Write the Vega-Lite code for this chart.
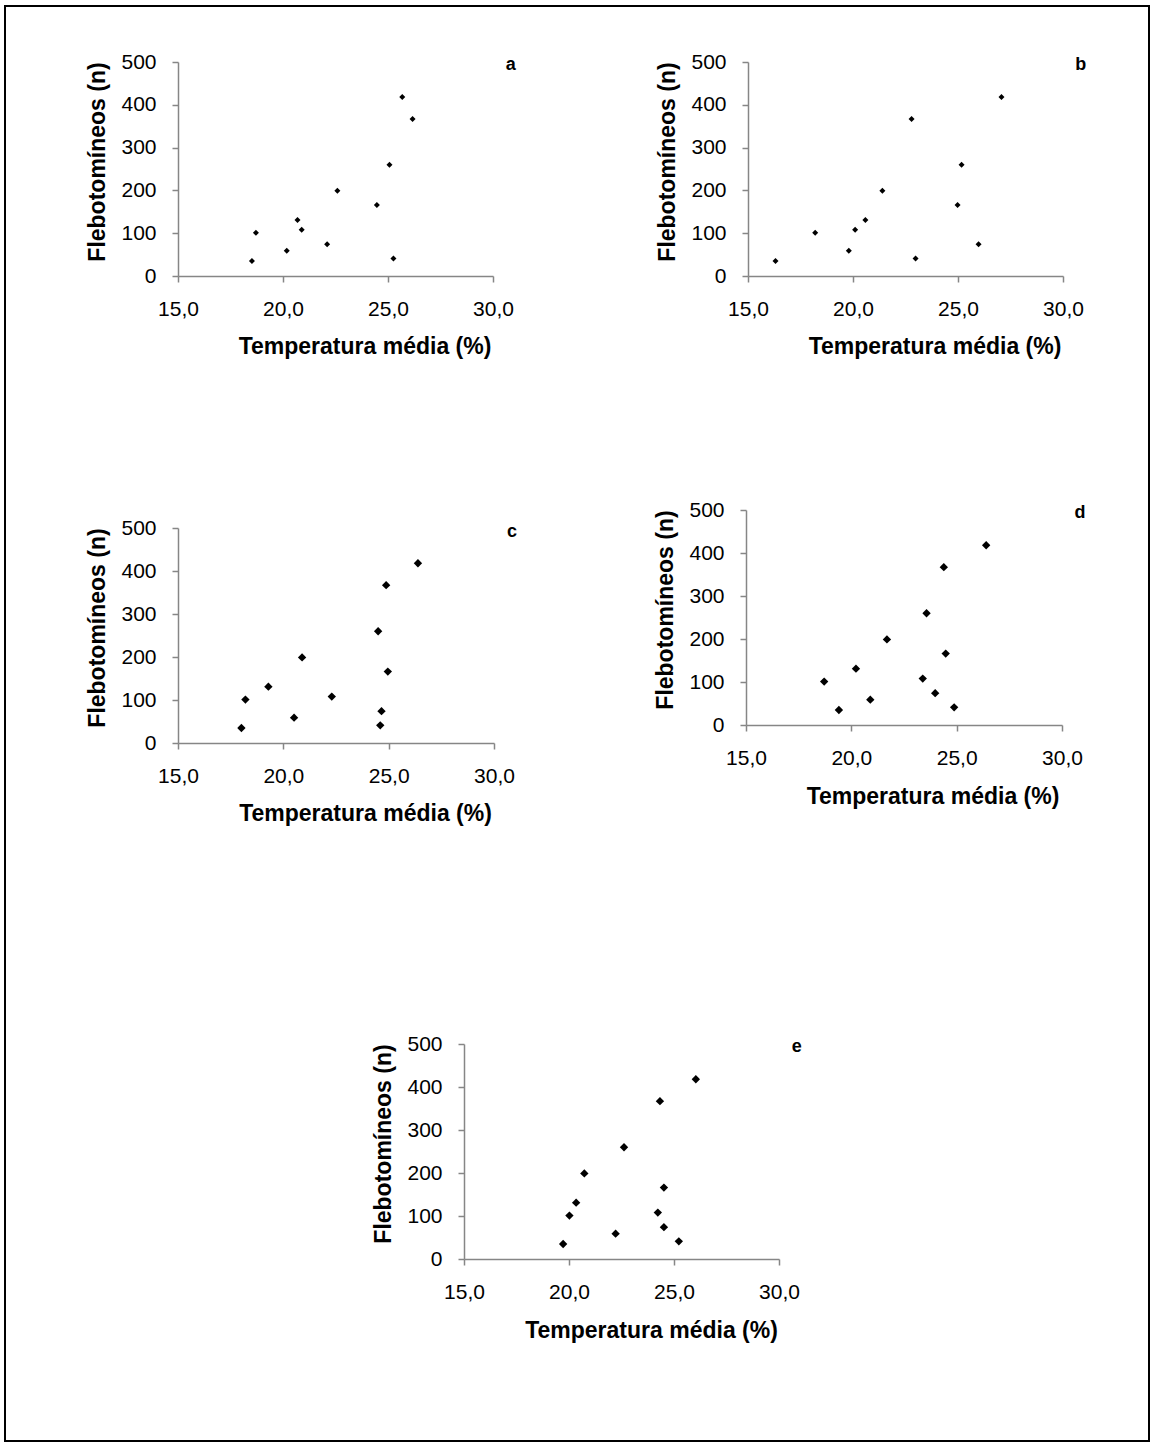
{
  "$schema": "https://vega.github.io/schema/vega-lite/v6.json",
  "width": 1144,
  "height": 1435,
  "autosize": {"type": "none"},
  "padding": {"left": 5, "top": 6, "right": 2, "bottom": 7},
  "background": "white",
  "config": {
    "view": {"stroke": "black", "strokeWidth": 2, "fill": "white"},
    "axis": {
      "grid": false,
      "domainColor": "#868686",
      "domainWidth": 1.5,
      "tickColor": "#868686",
      "tickWidth": 1.5,
      "tickSize": 6,
      "labelFont": "Liberation Sans",
      "labelFontSize": 21,
      "labelColor": "black",
      "labelPadding": 16,
      "labelFlush": false,
      "labelOverlap": false,
      "titleFont": "Liberation Sans",
      "titleFontSize": 23,
      "titleFontWeight": "bold",
      "titleColor": "black",
      "titleBaseline": "alphabetic",
      "titleAlign": "center"
    },
    "text": {"font": "Liberation Sans", "fontWeight": "bold", "fontSize": 18, "align": "center", "baseline": "alphabetic", "color": "black"}
  },
  "datasets": {
    "flebotomineos": [
      {"painel": "a", "temp": 18.52, "n": 35}, {"painel": "a", "temp": 18.71, "n": 101}, {"painel": "a", "temp": 20.18, "n": 59}, {"painel": "a", "temp": 20.69, "n": 131}, {"painel": "a", "temp": 20.89, "n": 108}, {"painel": "a", "temp": 22.10, "n": 74}, {"painel": "a", "temp": 22.59, "n": 199}, {"painel": "a", "temp": 24.47, "n": 166}, {"painel": "a", "temp": 25.07, "n": 260}, {"painel": "a", "temp": 25.26, "n": 41}, {"painel": "a", "temp": 25.68, "n": 418}, {"painel": "a", "temp": 26.17, "n": 367},
      {"painel": "b", "temp": 16.31, "n": 35}, {"painel": "b", "temp": 18.20, "n": 101}, {"painel": "b", "temp": 19.80, "n": 59}, {"painel": "b", "temp": 20.10, "n": 108}, {"painel": "b", "temp": 20.59, "n": 131}, {"painel": "b", "temp": 21.40, "n": 199}, {"painel": "b", "temp": 22.79, "n": 367}, {"painel": "b", "temp": 22.98, "n": 41}, {"painel": "b", "temp": 24.98, "n": 166}, {"painel": "b", "temp": 25.17, "n": 260}, {"painel": "b", "temp": 25.98, "n": 74}, {"painel": "b", "temp": 27.07, "n": 418},
      {"painel": "c", "temp": 18.01, "n": 35}, {"painel": "c", "temp": 18.20, "n": 101}, {"painel": "c", "temp": 19.29, "n": 131}, {"painel": "c", "temp": 20.51, "n": 59}, {"painel": "c", "temp": 20.89, "n": 199}, {"painel": "c", "temp": 22.30, "n": 108}, {"painel": "c", "temp": 24.50, "n": 260}, {"painel": "c", "temp": 24.60, "n": 41}, {"painel": "c", "temp": 24.66, "n": 74}, {"painel": "c", "temp": 24.88, "n": 367}, {"painel": "c", "temp": 24.96, "n": 166}, {"painel": "c", "temp": 26.39, "n": 418},
      {"painel": "d", "temp": 18.71, "n": 101}, {"painel": "d", "temp": 19.41, "n": 35}, {"painel": "d", "temp": 20.22, "n": 131}, {"painel": "d", "temp": 20.90, "n": 59}, {"painel": "d", "temp": 21.69, "n": 199}, {"painel": "d", "temp": 23.39, "n": 108}, {"painel": "d", "temp": 23.57, "n": 260}, {"painel": "d", "temp": 23.98, "n": 74}, {"painel": "d", "temp": 24.39, "n": 367}, {"painel": "d", "temp": 24.48, "n": 166}, {"painel": "d", "temp": 24.88, "n": 41}, {"painel": "d", "temp": 26.40, "n": 418},
      {"painel": "e", "temp": 19.72, "n": 35}, {"painel": "e", "temp": 20.02, "n": 101}, {"painel": "e", "temp": 20.34, "n": 131}, {"painel": "e", "temp": 20.73, "n": 199}, {"painel": "e", "temp": 22.22, "n": 59}, {"painel": "e", "temp": 22.62, "n": 260}, {"painel": "e", "temp": 24.23, "n": 108}, {"painel": "e", "temp": 24.33, "n": 367}, {"painel": "e", "temp": 24.52, "n": 74}, {"painel": "e", "temp": 24.52, "n": 166}, {"painel": "e", "temp": 25.23, "n": 41}, {"painel": "e", "temp": 26.04, "n": 418}
    ],
    "paineis": [
      {"painel": "a"}, {"painel": "b"}, {"painel": "c"}, {"painel": "d"}, {"painel": "e"}
    ]
  },
  "data": {"name": "flebotomineos"},
  "resolve": {
    "scale": {"x": "independent", "y": "independent"},
    "axis": {"x": "independent", "y": "independent"}
  },
  "layer": [
    {
      "transform": [{"filter": "datum.painel === 'a'"}],
      "mark": {"type": "point", "shape": "diamond", "filled": true, "color": "black", "opacity": 1, "size": 36},
      "encoding": {
        "x": {"field": "temp", "type": "quantitative",
          "scale": {"domain": [15, 30], "range": [173, 488], "nice": false, "zero": false},
          "axis": {"orient": "bottom", "offset": -1165, "values": [15, 20, 25, 30], "labelExpr": "replace(format(datum.value, '.1f'), '.', ',')", "title": "Temperatura média (%)", "titleX": 359.5, "titleY": 77}},
        "y": {"field": "n", "type": "quantitative",
          "scale": {"domain": [0, 500], "range": [270, 56], "nice": false, "zero": false},
          "axis": {"orient": "left", "offset": -173, "values": [0, 100, 200, 300, 400, 500], "title": "Flebotomíneos (n)", "titleAngle": 270, "titleX": -74, "titleY": 155.5}}
      }
    },
    {
      "transform": [{"filter": "datum.painel === 'b'"}],
      "mark": {"type": "point", "shape": "diamond", "filled": true, "color": "black", "opacity": 1, "size": 36},
      "encoding": {
        "x": {"field": "temp", "type": "quantitative",
          "scale": {"domain": [15, 30], "range": [743, 1058], "nice": false, "zero": false},
          "axis": {"orient": "bottom", "offset": -1165, "values": [15, 20, 25, 30], "labelExpr": "replace(format(datum.value, '.1f'), '.', ',')", "title": "Temperatura média (%)", "titleX": 929.5, "titleY": 77}},
        "y": {"field": "n", "type": "quantitative",
          "scale": {"domain": [0, 500], "range": [270, 56], "nice": false, "zero": false},
          "axis": {"orient": "left", "offset": -743, "values": [0, 100, 200, 300, 400, 500], "title": "Flebotomíneos (n)", "titleAngle": 270, "titleX": -74, "titleY": 155.5}}
      }
    },
    {
      "transform": [{"filter": "datum.painel === 'c'"}],
      "mark": {"type": "point", "shape": "diamond", "filled": true, "color": "black", "opacity": 1, "size": 70},
      "encoding": {
        "x": {"field": "temp", "type": "quantitative",
          "scale": {"domain": [15, 30], "range": [173, 489], "nice": false, "zero": false},
          "axis": {"orient": "bottom", "offset": -698, "values": [15, 20, 25, 30], "labelExpr": "replace(format(datum.value, '.1f'), '.', ',')", "title": "Temperatura média (%)", "titleX": 360, "titleY": 77}},
        "y": {"field": "n", "type": "quantitative",
          "scale": {"domain": [0, 500], "range": [737, 522], "nice": false, "zero": false},
          "axis": {"orient": "left", "offset": -173, "values": [0, 100, 200, 300, 400, 500], "title": "Flebotomíneos (n)", "titleAngle": 270, "titleX": -74, "titleY": 621.5}}
      }
    },
    {
      "transform": [{"filter": "datum.painel === 'd'"}],
      "mark": {"type": "point", "shape": "diamond", "filled": true, "color": "black", "opacity": 1, "size": 70},
      "encoding": {
        "x": {"field": "temp", "type": "quantitative",
          "scale": {"domain": [15, 30], "range": [741, 1057], "nice": false, "zero": false},
          "axis": {"orient": "bottom", "offset": -716, "values": [15, 20, 25, 30], "labelExpr": "replace(format(datum.value, '.1f'), '.', ',')", "title": "Temperatura média (%)", "titleX": 927.5, "titleY": 78}},
        "y": {"field": "n", "type": "quantitative",
          "scale": {"domain": [0, 500], "range": [719, 504], "nice": false, "zero": false},
          "axis": {"orient": "left", "offset": -741, "values": [0, 100, 200, 300, 400, 500], "title": "Flebotomíneos (n)", "titleAngle": 270, "titleX": -74, "titleY": 603.5}}
      }
    },
    {
      "transform": [{"filter": "datum.painel === 'e'"}],
      "mark": {"type": "point", "shape": "diamond", "filled": true, "color": "black", "opacity": 1, "size": 70},
      "encoding": {
        "x": {"field": "temp", "type": "quantitative",
          "scale": {"domain": [15, 30], "range": [459, 774], "nice": false, "zero": false},
          "axis": {"orient": "bottom", "offset": -182, "values": [15, 20, 25, 30], "labelExpr": "replace(format(datum.value, '.1f'), '.', ',')", "title": "Temperatura média (%)", "titleX": 646, "titleY": 78}},
        "y": {"field": "n", "type": "quantitative",
          "scale": {"domain": [0, 500], "range": [1253, 1038], "nice": false, "zero": false},
          "axis": {"orient": "left", "offset": -459, "values": [0, 100, 200, 300, 400, 500], "title": "Flebotomíneos (n)", "titleAngle": 270, "titleX": -74, "titleY": 1137.5}}
      }
    },
    {
      "data": {"name": "paineis"},
      "transform": [{"filter": "datum.painel === 'a'"}],
      "mark": {"type": "text"},
      "encoding": {
        "text": {"field": "painel"},
        "x": {"datum": 30.85, "scale": {"domain": [15, 30], "range": [173, 488]}, "axis": null},
        "y": {"datum": 481, "scale": {"domain": [0, 500], "range": [270, 56]}, "axis": null}
      }
    },
    {
      "data": {"name": "paineis"},
      "transform": [{"filter": "datum.painel === 'b'"}],
      "mark": {"type": "text"},
      "encoding": {
        "text": {"field": "painel"},
        "x": {"datum": 30.85, "scale": {"domain": [15, 30], "range": [743, 1058]}, "axis": null},
        "y": {"datum": 481, "scale": {"domain": [0, 500], "range": [270, 56]}, "axis": null}
      }
    },
    {
      "data": {"name": "paineis"},
      "transform": [{"filter": "datum.painel === 'c'"}],
      "mark": {"type": "text"},
      "encoding": {
        "text": {"field": "painel"},
        "x": {"datum": 30.85, "scale": {"domain": [15, 30], "range": [173, 489]}, "axis": null},
        "y": {"datum": 479, "scale": {"domain": [0, 500], "range": [737, 522]}, "axis": null}
      }
    },
    {
      "data": {"name": "paineis"},
      "transform": [{"filter": "datum.painel === 'd'"}],
      "mark": {"type": "text"},
      "encoding": {
        "text": {"field": "painel"},
        "x": {"datum": 30.85, "scale": {"domain": [15, 30], "range": [741, 1057]}, "axis": null},
        "y": {"datum": 481, "scale": {"domain": [0, 500], "range": [719, 504]}, "axis": null}
      }
    },
    {
      "data": {"name": "paineis"},
      "transform": [{"filter": "datum.painel === 'e'"}],
      "mark": {"type": "text"},
      "encoding": {
        "text": {"field": "painel"},
        "x": {"datum": 30.85, "scale": {"domain": [15, 30], "range": [459, 774]}, "axis": null},
        "y": {"datum": 481, "scale": {"domain": [0, 500], "range": [1253, 1038]}, "axis": null}
      }
    }
  ]
}
